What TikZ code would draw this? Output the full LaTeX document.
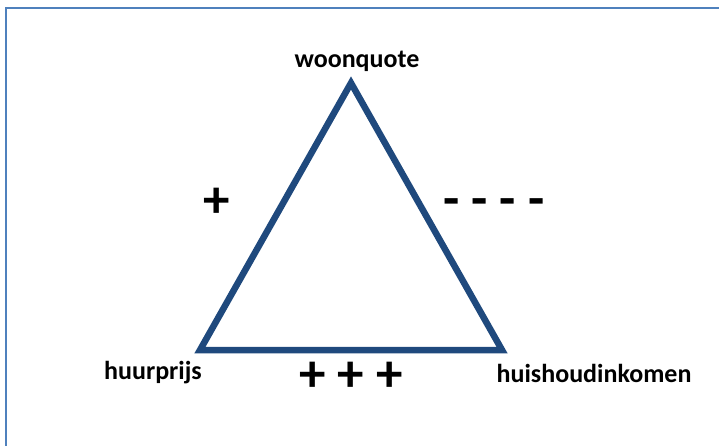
\documentclass[tikz,border=0pt]{standalone}
\usepackage{fontspec}
\setmainfont{Carlito}
\definecolor{triblue}{RGB}{31,73,125}
\definecolor{frameblue}{RGB}{79,129,189}
\begin{document}
\begin{tikzpicture}[x=1pt,y=1pt,
  lbl/.style={font=\fontsize{26}{30}\selectfont\bfseries, inner sep=0pt, anchor=base},
  sign/.style={font=\fontsize{53}{60}\selectfont\bfseries, inner sep=0pt},
  tri/.style={draw=triblue, line width=6.5pt, line join=miter},
  frame/.style={draw=frameblue, line width=2pt}]
\useasboundingbox (0,0) rectangle (719,-446);
\begin{scope}
  \clip (0,0) rectangle (719,-446);
  \draw[frame] (6,-8.5) rectangle (740,-470);
\end{scope}
\coordinate (A) at (351,-83);
\coordinate (B) at (200,-350);
\coordinate (C) at (502,-350);
\draw[tri] (A) -- (B) -- (C) -- cycle;
\node[lbl] (wq) at (357,-68) {woonquote};
\node[lbl] (hp) at (153,-379) {huurprijs};
\node[lbl] (hi) at (594,-382) {huishoudinkomen};
\node[sign] (p1) at (217,-203) {+};
\node[sign] (p3) at (351,-377) {+ + +};
\node[sign] (m4) at (494,-208) {- - - -};
\end{tikzpicture}
\end{document}
